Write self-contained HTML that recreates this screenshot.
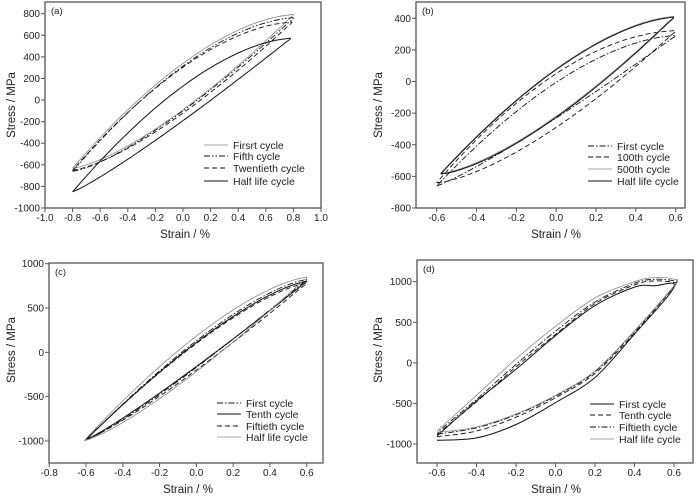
<!DOCTYPE html>
<html><head><meta charset="utf-8"><style>
html,body{margin:0;padding:0;background:#fff}
svg text{font-family:"Liberation Sans",sans-serif;fill:#222}
</style></head><body>
<svg id="s" width="700" height="497" xmlns="http://www.w3.org/2000/svg"></svg>
<script>
const S=document.getElementById('s');let out='';
const STY={solid:'stroke="#111" stroke-width="1"',dash:'stroke="#111" stroke-width="0.9" stroke-dasharray="5,3"',
dd:'stroke="#111" stroke-width="0.9" stroke-dasharray="6,2,1.5,2"',ddd:'stroke="#111" stroke-width="0.9" stroke-dasharray="6,2,1.5,2,1.5,2"',
grey:'stroke="#888" stroke-width="0.8"'};
function cr(pts){let d='M'+pts[0][0].toFixed(1)+','+pts[0][1].toFixed(1);
for(let i=0;i<pts.length-1;i++){const p0=pts[Math.max(0,i-1)],p1=pts[i],p2=pts[i+1],p3=pts[Math.min(pts.length-1,i+2)];
const c1=[p1[0]+(p2[0]-p0[0])/6,p1[1]+(p2[1]-p0[1])/6],c2=[p2[0]-(p3[0]-p1[0])/6,p2[1]-(p3[1]-p1[1])/6];
d+=`C${c1[0].toFixed(1)},${c1[1].toFixed(1)} ${c2[0].toFixed(1)},${c2[1].toFixed(1)} ${p2[0].toFixed(1)},${p2[1].toFixed(1)}`;}return d;}
function panel(P){
const X=v=>P.x0+(v-P.xa)/(P.xb-P.xa)*(P.x1-P.x0), Y=v=>P.y0+(v-P.ya)/(P.yb-P.ya)*(P.y1-P.y0);
out+=`<rect x="${P.L}" y="${P.T}" width="${P.R-P.L}" height="${P.B-P.T}" fill="none" stroke="#555" stroke-width="1.3"/>`;
P.xt.forEach(v=>{const x=X(v);out+=`<line x1="${x}" y1="${P.B}" x2="${x}" y2="${P.B+4}" stroke="#555"/><text x="${x}" y="${P.xly}" font-size="10" text-anchor="middle">${v.toFixed(1)}</text>`;});
P.yt.forEach(v=>{const y=Y(v);out+=`<line x1="${P.L-4}" y1="${y}" x2="${P.L}" y2="${y}" stroke="#555"/><text x="${P.L-5}" y="${y+3.5}" font-size="10" text-anchor="end">${v}</text>`;});
out+=`<text x="${P.L+6}" y="${P.T+12}" font-size="9.5">${P.lab}</text>`;
out+=`<text x="${P.xtx}" y="${P.xty}" font-size="11.5" text-anchor="middle">Strain / %</text>`;
out+=`<text transform="translate(${P.ytx},${P.yty}) rotate(-90)" font-size="11.5" text-anchor="middle">Stress / MPa</text>`;
P.curves.forEach(c=>{let pts;
 if(c.pts){pts=c.pts.map(p=>[X(p[0]),Y(p[1])]);}
 else{const [e0,s0,e1,s1,um,lm]=c.p;const em=(e0+e1)/2;
  const pu=Math.log((s1-um)/(s1-s0))/Math.log(0.5), pl=Math.log((lm-s0)/(s1-s0))/Math.log(0.5);
  pts=[];for(let i=0;i<=40;i++){const t=i/40;pts.push([X(e0+(e1-e0)*t),Y(s0+(s1-s0)*Math.pow(t,pl))]);}
  for(let i=1;i<=40;i++){const u=i/40;pts.push([X(e1-(e1-e0)*u),Y(s1-(s1-s0)*Math.pow(u,pu))]);}}
 out+=`<path d="${cr(pts)}" fill="none" ${STY[c.s]}/>`;});
P.leg.forEach((l,i)=>{const y=P.ly[i];out+=`<line x1="${P.lx}" y1="${y}" x2="${P.lx+24}" y2="${y}" ${STY[l[1]]}/><text x="${P.lx+29}" y="${y+4}" font-size="10.5">${l[0]}</text>`;});
}
panel({L:45,R:321,T:2,B:208,x0:45,x1:321,xa:-1,xb:1,y0:13.7,y1:208,ya:800,yb:-1000,
xt:[-1,-.8,-.6,-.4,-.2,0,.2,.4,.6,.8,1],yt:[800,600,400,200,0,-200,-400,-600,-800,-1000],xly:221,lab:'(a)',
xtx:185,xty:238,ytx:15,yty:105,lx:204,ly:[145,156,168,181],
curves:[{s:'grey',p:[-0.8,-630,0.8,790,340,-90]},{s:'ddd',p:[-0.8,-660,0.8,760,315,-100]},{s:'dash',p:[-0.8,-650,0.79,720,300,-125]},{s:'solid',p:[-0.8,-850,0.78,570,120,-200]}],
leg:[['Firsrt cycle','grey'],['Fifth cycle','ddd'],['Twentieth cycle','dash'],['Half life cycle','solid']]});
panel({L:416,R:685,T:2,B:208,x0:436.7,x1:675.7,xa:-0.6,xb:0.6,y0:18.3,y1:208,ya:400,yb:-800,
xt:[-.6,-.4,-.2,0,.2,.4,.6],yt:[400,200,0,-200,-400,-600,-800],xly:221,lab:'(b)',
xtx:556,xty:238,ytx:382,yty:105,lx:588,ly:[146,157,169,181],
curves:[{s:'dd',p:[-0.6,-660,0.6,290,-5,-230]},{s:'dash',p:[-0.6,-640,0.6,320,50,-290]},{s:'grey',p:[-0.58,-580,0.59,410,85,-215]},{s:'solid',p:[-0.58,-585,0.59,405,80,-222]}],
leg:[['First cycle','dd'],['100th cycle','dash'],['500th cycle','grey'],['Half life cycle','solid']]});
panel({L:49,R:323,T:263,B:463,x0:86,x1:306.7,xa:-0.6,xb:0.6,y0:263.7,y1:441,ya:1000,yb:-1000,
xt:[-.8,-.6,-.4,-.2,0,.2,.4,.6],yt:[1000,500,0,-500,-1000],xly:476,lab:'(c)',
xtx:188,xty:493,ytx:15,yty:350,lx:217,ly:[403,414,426,437],
curves:[{s:'dd',p:[-0.6,-990,0.6,820,130,-170]},{s:'solid',p:[-0.6,-985,0.6,800,110,-160]},{s:'dash',p:[-0.6,-980,0.6,780,100,-200]},{s:'grey',p:[-0.61,-995,0.6,845,175,-225]}],
leg:[['First cycle','dd'],['Tenth cycle','solid'],['Fiftieth cycle','dash'],['Half life cycle','grey']]});
panel({L:417,R:693,T:260,B:463,x0:437,x1:674,xa:-0.6,xb:0.6,y0:281.7,y1:444,ya:1000,yb:-1000,
xt:[-.6,-.4,-.2,0,.2,.4,.6],yt:[1000,500,0,-500,-1000],xly:476,lab:'(d)',
xtx:556,xty:493,ytx:382,yty:350,lx:590,ly:[404,415,427,439],
curves:[
{s:'solid',pts:[[-0.6,-955],[-0.4,-925],[-0.2,-760],[0,-490],[0.2,-180],[0.4,355],[0.6,934],[0.5,950],[0.4,934],[0.2,706],[0,335],[-0.2,-80],[-0.4,-470],[-0.6,-900]]},
{s:'dash',pts:[[-0.6,-910],[-0.4,-840],[-0.2,-670],[0,-430],[0.2,-130],[0.4,370],[0.6,940],[0.6,990],[0.5,1010],[0.4,960],[0.2,730],[0,350],[-0.2,-50],[-0.4,-480],[-0.6,-880]]},
{s:'dd',pts:[[-0.6,-880],[-0.4,-800],[-0.2,-640],[0,-410],[0.2,-110],[0.4,390],[0.6,945],[0.6,1010],[0.5,1030],[0.4,980],[0.2,750],[0,390],[-0.2,-20],[-0.4,-450],[-0.6,-860]]},
{s:'grey',pts:[[-0.6,-860],[-0.4,-790],[-0.2,-630],[0,-400],[0.2,-100],[0.4,395],[0.6,950],[0.6,1030],[0.5,1050],[0.4,1000],[0.2,800],[0,450],[-0.2,50],[-0.4,-400],[-0.6,-840]]}],
leg:[['First cycle','solid'],['Tenth cycle','dash'],['Fiftieth cycle','dd'],['Half life cycle','grey']]});
S.innerHTML=out;
</script>
</body></html>
